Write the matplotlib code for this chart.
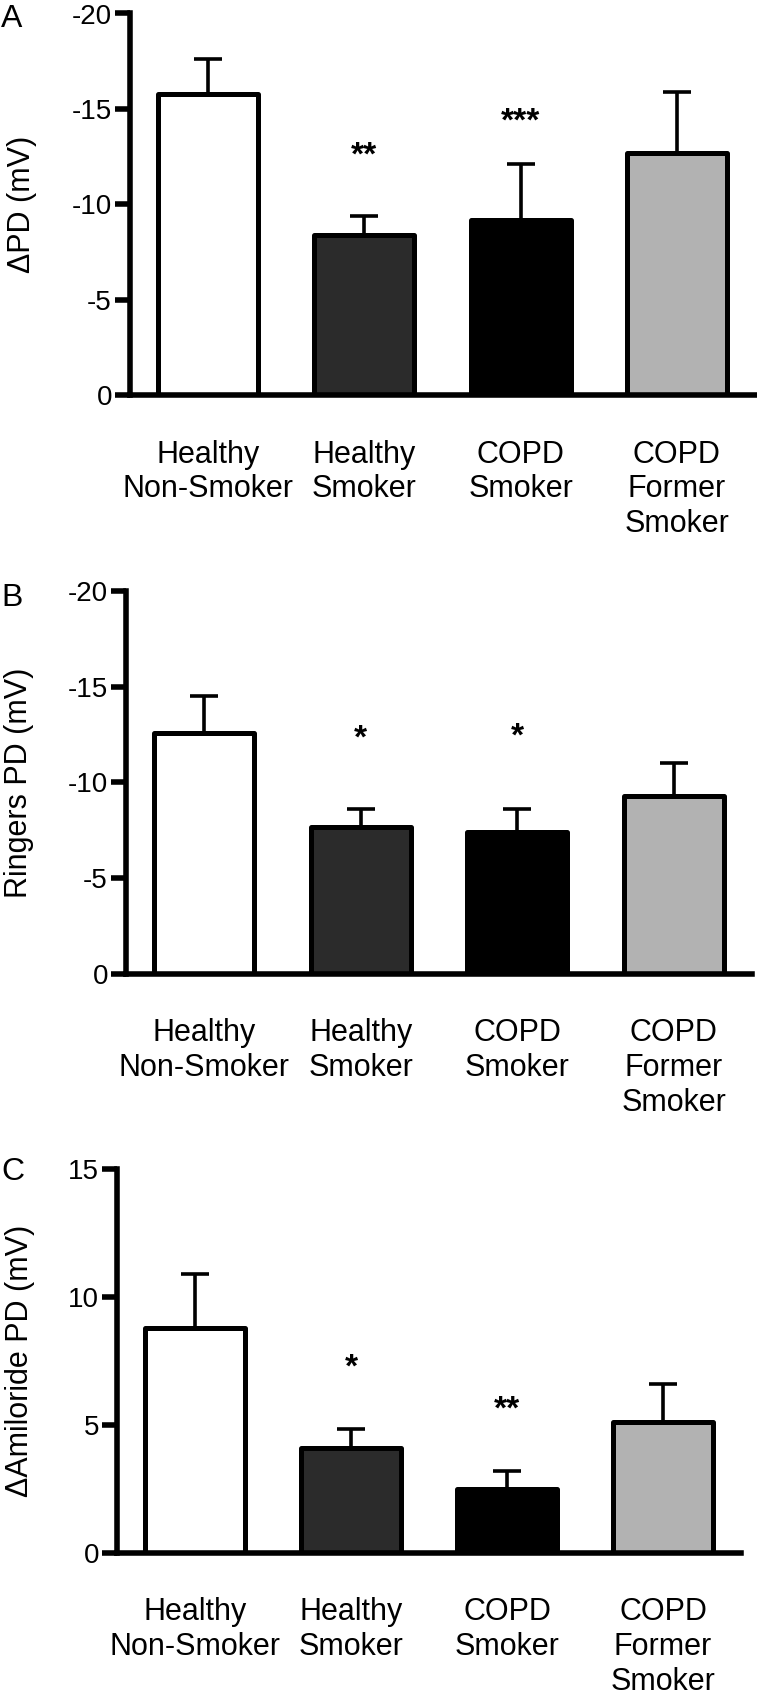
import numpy as np
import matplotlib
matplotlib.use("Agg")
import matplotlib.pyplot as plt

plt.rcParams['font.family'] = ['Liberation Sans', 'DejaVu Sans']
plt.rcParams['axes.unicode_minus'] = False

# data (mean, SEM); PD panels are negative mV
groups = ["Healthy\nNon-Smoker", "Healthy\nSmoker", "COPD\nSmoker", "COPD\nFormer\nSmoker"]
bar_colors = ["white", "#2b2b2b", "black", "#b2b2b2"]

dpd_mean = [-15.8, -8.4, -9.2, -12.7]
dpd_sem = [1.8, 1.0, 2.9, 3.2]
dpd_stars = ["", "**", "***", ""]
dpd_star_y = [0, -13.1, -14.9, 0]
dpd_ticks = [0, -5, -10, -15, -20]

ringers_mean = [-12.6, -7.7, -7.4, -9.3]
ringers_sem = [1.9, 0.9, 1.2, 1.7]
ringers_stars = ["", "*", "*", ""]
ringers_star_y = [0, -12.85, -12.95, 0]
ringers_ticks = [0, -5, -10, -15, -20]

amil_mean = [8.8, 4.1, 2.5, 5.1]
amil_sem = [2.1, 0.75, 0.7, 1.5]
amil_stars = ["", "*", "**", ""]
amil_star_y = [0, 7.66, 6.0, 0]
amil_ticks = [0, 5, 10, 15]

W, H = 757, 1694
fig = plt.figure(figsize=(W / 100, H / 100), dpi=100)


def make_axes(left, right, top, bottom):
    return fig.add_axes([left / W, 1 - bottom / H, (right - left) / W, (bottom - top) / H])


def draw_panel(ax, mean, sem, stars, star_y, ticks, ylim):
    x = np.arange(len(mean))
    # error bars sit behind the bars so only the outer half shows
    ax.errorbar(x, mean, yerr=sem, fmt='none', ecolor='black', elinewidth=2.6,
                capsize=10, capthick=2.6, zorder=1)
    bars = ax.bar(x, mean, width=0.64, color=bar_colors, edgecolor='black',
                  linewidth=3.6, zorder=2)
    for b in bars:
        b.set_joinstyle('round')
    for i, s in enumerate(stars):
        if s:
            ax.annotate(s, xy=(x[i], star_y[i]), xytext=(0, -14), textcoords='offset points',
                        ha='center', va='baseline', fontsize=24, fontweight='bold')
    ax.set_xlim(-0.5, 3.5)
    ax.set_ylim(*ylim)
    ax.set_yticks(ticks)
    ax.set_yticklabels([str(t) for t in ticks])
    ax.set_xticks(x)
    ax.set_xticklabels(groups)
    for side in ['top', 'right']:
        ax.spines[side].set_visible(False)
    for side in ['left', 'bottom']:
        ax.spines[side].set_linewidth(4)
        ax.spines[side].set_capstyle('projecting')
    ax.tick_params(axis='y', length=11, width=4, pad=2, labelsize=20)
    ax.tick_params(axis='x', length=0, pad=32, labelsize=22)


ax_a = make_axes(130, 755, 13.5, 395.4)
draw_panel(ax_a, dpd_mean, dpd_sem, dpd_stars, dpd_star_y, dpd_ticks, (0, -20))

ax_b = make_axes(126, 752, 591, 974)
draw_panel(ax_b, ringers_mean, ringers_sem, ringers_stars, ringers_star_y, ringers_ticks, (0, -20))

ax_c = make_axes(117, 741, 1169, 1553)
draw_panel(ax_c, amil_mean, amil_sem, amil_stars, amil_star_y, amil_ticks, (0, 15))

# y labels and panel letters
fig.text(22 / W, 1 - 204 / H, "ΔPD (mV)", rotation=90, ha='center', va='center', fontsize=22)
fig.text(19 / W, 1 - 783 / H, "Ringers PD (mV)", rotation=90, ha='center', va='center', fontsize=22)
fig.text(20 / W, 1 - 1361 / H, "ΔAmiloride PD (mV)", rotation=90, ha='center', va='center', fontsize=22)

fig.text(1 / W, 1 - 4 / H, "A", ha='left', va='top', fontsize=23)
fig.text(1 / W, 1 - 583 / H, "B", ha='left', va='top', fontsize=23)
fig.text(1 / W, 1 - 1157 / H, "C", ha='left', va='top', fontsize=23)

fig.savefig("out.png", dpi=100)
